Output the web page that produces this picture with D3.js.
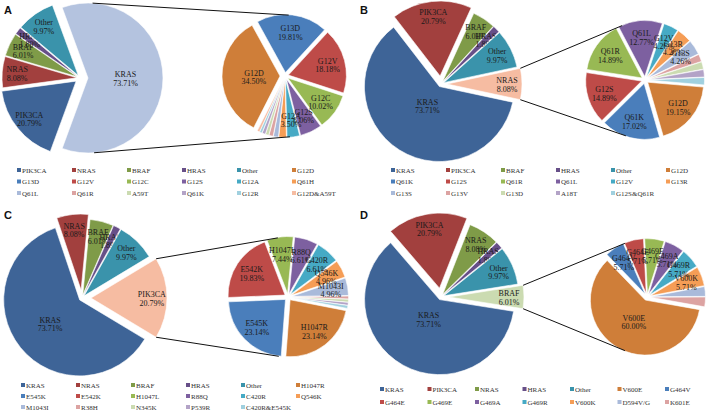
<!DOCTYPE html>
<html lang="en">
<head>
<meta charset="UTF-8">
<title>Mutation spectrum pie-of-pie charts</title>
<script src="https://d3js.org/d3.v7.min.js"></script>
<style>
  body { margin: 0; background: #fff; }
  .lbl { font-family: "Liberation Serif", "Times New Roman", serif; font-size: 8px; fill: #1a1a1a; text-anchor: middle; }
  .leg { font-family: "Liberation Serif", "Times New Roman", serif; font-size: 7px; fill: #333; }
  .tag { font-family: "Liberation Sans", Arial, sans-serif; font-size: 11px; font-weight: bold; fill: #111; }
  .conn { stroke: #111; stroke-width: 1; fill: none; }
</style>
</head>
<body>
<svg id="chart" width="709" height="413"></svg>
<script>
// gene-level frequencies (%), shared by all four panels
const genes = ["KRAS", "PIK3CA", "NRAS", "BRAF", "HRAS", "Other"];
const geneFreq = [73.71, 20.79, 8.08, 6.01, 1.89, 9.97];

// mutation breakdown inside each gene
const krasMut = ["G12D", "G13D", "G12V", "G12C", "G12S", "G12A", "Q61H", "Q61L", "Q61R", "A59T", "Q61K", "G12R", "G12D&A59T"];
const krasPct = [34.50, 19.81, 18.18, 10.02, 6.06, 3.50, 2.10, 1.40, 1.17, 0.93, 0.93, 0.70, 0.70];

const nrasMut = ["G12D", "Q61K", "G12S", "Q61R", "Q61L", "G12V", "G13R", "G13S", "G13V", "G13D", "A18T", "G12S&Q61R"];
const nrasPct = [19.15, 17.02, 14.89, 14.89, 12.77, 4.26, 4.26, 4.26, 2.13, 2.13, 2.13, 2.13];

const pik3caMut = ["H1047R", "E545K", "E542K", "H1047L", "R88Q", "C420R", "Q546K", "M1043I", "R38H", "N345K", "P539R", "C420R&E545K"];
const pik3caPct = [23.14, 23.14, 19.83, 7.44, 6.61, 6.61, 4.96, 4.96, 0.83, 0.83, 0.83, 0.83];

const brafMut = ["V600E", "G464V", "G464E", "G469E", "G469A", "G469R", "V600K", "D594V/G", "K601E"];
const brafPct = [60.00, 5.71, 5.71, 5.71, 5.71, 5.71, 5.71, 2.86, 2.86];

// office-like colour sequence (darker, normal, lighter)
const palette = ["#3E6497", "#A2403E", "#7F9B48", "#674F88", "#3A93AB", "#CF7E39",
                 "#4A7EBB", "#BE4B48", "#98B954", "#7D60A0", "#46AAC5", "#F59D56",
                 "#A9BADA", "#DCA3A2", "#CBDBB1", "#B3A3C7", "#A0D0DF", "#F6BCA2", "#B4C3DF"];

const panels = [
  { tag: "A", split: "KRAS", subNames: krasMut, subVals: krasPct,
    ox: 0, oy: 0, main: [80, 78], r1: 75, sub: [285, 76], r2: 58, subStart: 207, bigK: 0.5,
    explode: { KRAS: 8, PIK3CA: 5 }, subExplode: { G12D: 5 },
    legX: 17, legDx: 55, legCols: 6, legY: [170, 181.5, 193] },
  { tag: "B", split: "NRAS", subNames: nrasMut, subVals: nrasPct,
    ox: 355, oy: 0, main: [86, 84], r1: 75, sub: [290, 80], r2: 56, subStart: 95, bigK: 0.3,
    explode: { NRAS: 6, PIK3CA: 8 }, subExplode: {},
    legX: 36, legDx: 55, legCols: 6, legY: [170, 181.5, 193] },
  { tag: "C", split: "PIK3CA", subNames: pik3caMut, subVals: pik3caPct,
    ox: 0, oy: 205, main: [82, 93], r1: 76, sub: [288, 92], r2: 57, subStart: 101, bigK: 0.5,
    explode: { PIK3CA: 9, NRAS: 8 }, subExplode: {},
    legX: 21, legDx: 55, legCols: 6, legY: [180, 191, 202] },
  { tag: "D", split: "BRAF", subNames: brafMut, subVals: brafPct,
    ox: 355, oy: 205, main: [86, 92], r1: 75, sub: [292, 92], r2: 55, subStart: 100, bigK: 0.3,
    explode: { BRAF: 8, PIK3CA: 9 }, subExplode: {},
    legX: 25, legDx: 47.5, legCols: 7, legY: [184, 197] }
];

const svg = d3.select("#chart");
const TAU = 2 * Math.PI;

function offset(a, e) { return [e * Math.sin(a), -e * Math.cos(a)]; }

// common outer tangent of two circles, top or bottom one
function outerTangent(c1, r1, c2, r2, top) {
  const dx = c2[0] - c1[0], dy = c2[1] - c1[1], D = Math.hypot(dx, dy);
  const phi = Math.atan2(dy, dx), th = Math.acos((r1 - r2) / D);
  const n = [phi + th, phi - th].map(a => [Math.cos(a), Math.sin(a)])
    .sort((u, v) => top ? u[1] - v[1] : v[1] - u[1])[0];
  return { p1: [c1[0] + r1 * n[0], c1[1] + r1 * n[1]], p2: [c2[0] + r2 * n[0], c2[1] + r2 * n[1]],
           ang: Math.atan2(n[0], -n[1]) };
}

// tangent point on a circle seen from an outside point
function pointTangent(P, c, r, top) {
  const dx = P[0] - c[0], dy = P[1] - c[1], D = Math.hypot(dx, dy);
  const phi = Math.atan2(dy, dx), al = Math.acos(r / D);
  return [phi + al, phi - al].map(a => [c[0] + r * Math.cos(a), c[1] + r * Math.sin(a)])
    .sort((u, v) => top ? u[1] - v[1] : v[1] - u[1])[0];
}

function drawLabel(g, x, y, name, val) {
  const t = g.append("text").attr("class", "lbl").attr("x", x).attr("y", y - 1);
  t.append("tspan").attr("x", x).attr("dy", 0).text(name);
  t.append("tspan").attr("x", x).attr("dy", 8.5).text(val.toFixed(2) + "%");
}

panels.forEach(p => {
  const g = svg.append("g").attr("transform", `translate(${p.ox},${p.oy})`);
  const legendNames = genes.filter(n => n !== p.split);
  const mainNames = [p.split, ...legendNames];
  const mainVals = mainNames.map(n => geneFreq[genes.indexOf(n)]);
  const splitColor = palette[legendNames.length + p.subNames.length];
  const mainColor = i => i === 0 ? splitColor : palette[i - 1];

  // ---- main pie, split slice centred on the right
  const span = mainVals[0] / d3.sum(mainVals) * TAU;
  const a0 = Math.PI / 2 - span / 2;
  const mainArcs = d3.pie().sort(null).startAngle(a0).endAngle(a0 + TAU)(mainVals);
  const arc1 = d3.arc().innerRadius(0).outerRadius(p.r1);

  const mg = g.append("g").attr("transform", `translate(${p.main[0]},${p.main[1]})`);
  mainArcs.forEach((d, i) => {
    const e = p.explode[mainNames[i]] ?? 3;
    const mid = (d.startAngle + d.endAngle) / 2;
    const [dx, dy] = offset(mid, e);
    mg.append("path").attr("d", arc1(d)).attr("transform", `translate(${dx},${dy})`)
      .attr("fill", mainColor(i)).attr("stroke", "#fff").attr("stroke-width", 0.6);
    const k = (d.endAngle - d.startAngle) > Math.PI ? p.bigK : 0.8;
    const [lx, ly] = offset(mid, p.r1 * k + e);
    drawLabel(mg, lx, ly, mainNames[i], mainVals[i]);
  });

  // ---- secondary pie
  const sa = p.subStart * Math.PI / 180;
  const subArcs = d3.pie().sort(null).startAngle(sa).endAngle(sa + TAU)(p.subVals);
  const arc2 = d3.arc().innerRadius(0).outerRadius(p.r2);
  const sg = g.append("g").attr("transform", `translate(${p.sub[0]},${p.sub[1]})`);
  subArcs.forEach((d, i) => {
    const e = p.subExplode[p.subNames[i]] ?? 3.5;
    const mid = (d.startAngle + d.endAngle) / 2;
    const [dx, dy] = offset(mid, e);
    sg.append("path").attr("d", arc2(d)).attr("transform", `translate(${dx},${dy})`)
      .attr("fill", palette[legendNames.length + i]).attr("stroke", "#fff").attr("stroke-width", 0.6);
  });
  subArcs.forEach((d, i) => {
    if (p.subVals[i] < 3) return;
    const e = p.subExplode[p.subNames[i]] ?? 3.5;
    const mid = (d.startAngle + d.endAngle) / 2;
    const k = (d.endAngle - d.startAngle) > TAU * 0.3 ? 0.45 : 0.7;
    const [lx, ly] = offset(mid, p.r2 * k + e);
    drawLabel(sg, lx, ly, p.subNames[i], p.subVals[i]);
  });

  // ---- connector lines between split slice and secondary pie
  const se = p.explode[p.split] ?? 3;
  const c1 = [p.main[0] + se, p.main[1]];
  const rr2 = p.r2 + 3;
  [true, false].forEach(top => {
    const t = outerTangent(c1, p.r1, p.sub, rr2, top);
    const rel = ((t.ang - a0) % TAU + TAU) % TAU;
    let from, to;
    if (rel <= span) { from = t.p1; to = t.p2; }
    else {
      const a = top ? a0 : a0 + span;
      const [cx, cy] = offset(a, p.r1);
      from = [c1[0] + cx, c1[1] + cy];
      to = pointTangent(from, p.sub, rr2, top);
    }
    g.append("line").attr("class", "conn")
      .attr("x1", from[0]).attr("y1", from[1]).attr("x2", to[0]).attr("y2", to[1]);
  });

  // ---- legend
  const legItems = [...legendNames, ...p.subNames];
  legItems.forEach((name, i) => {
    const x = p.legX + (i % p.legCols) * p.legDx;
    const y = p.legY[Math.floor(i / p.legCols)];
    g.append("rect").attr("x", x).attr("y", y - 2).attr("width", 4).attr("height", 4)
      .attr("fill", palette[i]);
    g.append("text").attr("class", "leg").attr("x", x + 5).attr("y", y + 2.5).text(name);
  });

  g.append("text").attr("class", "tag").attr("x", p.tag === "A" || p.tag === "C" ? 4 : 5)
    .attr("y", 14).text(p.tag);
});
</script>
</body>
</html>
